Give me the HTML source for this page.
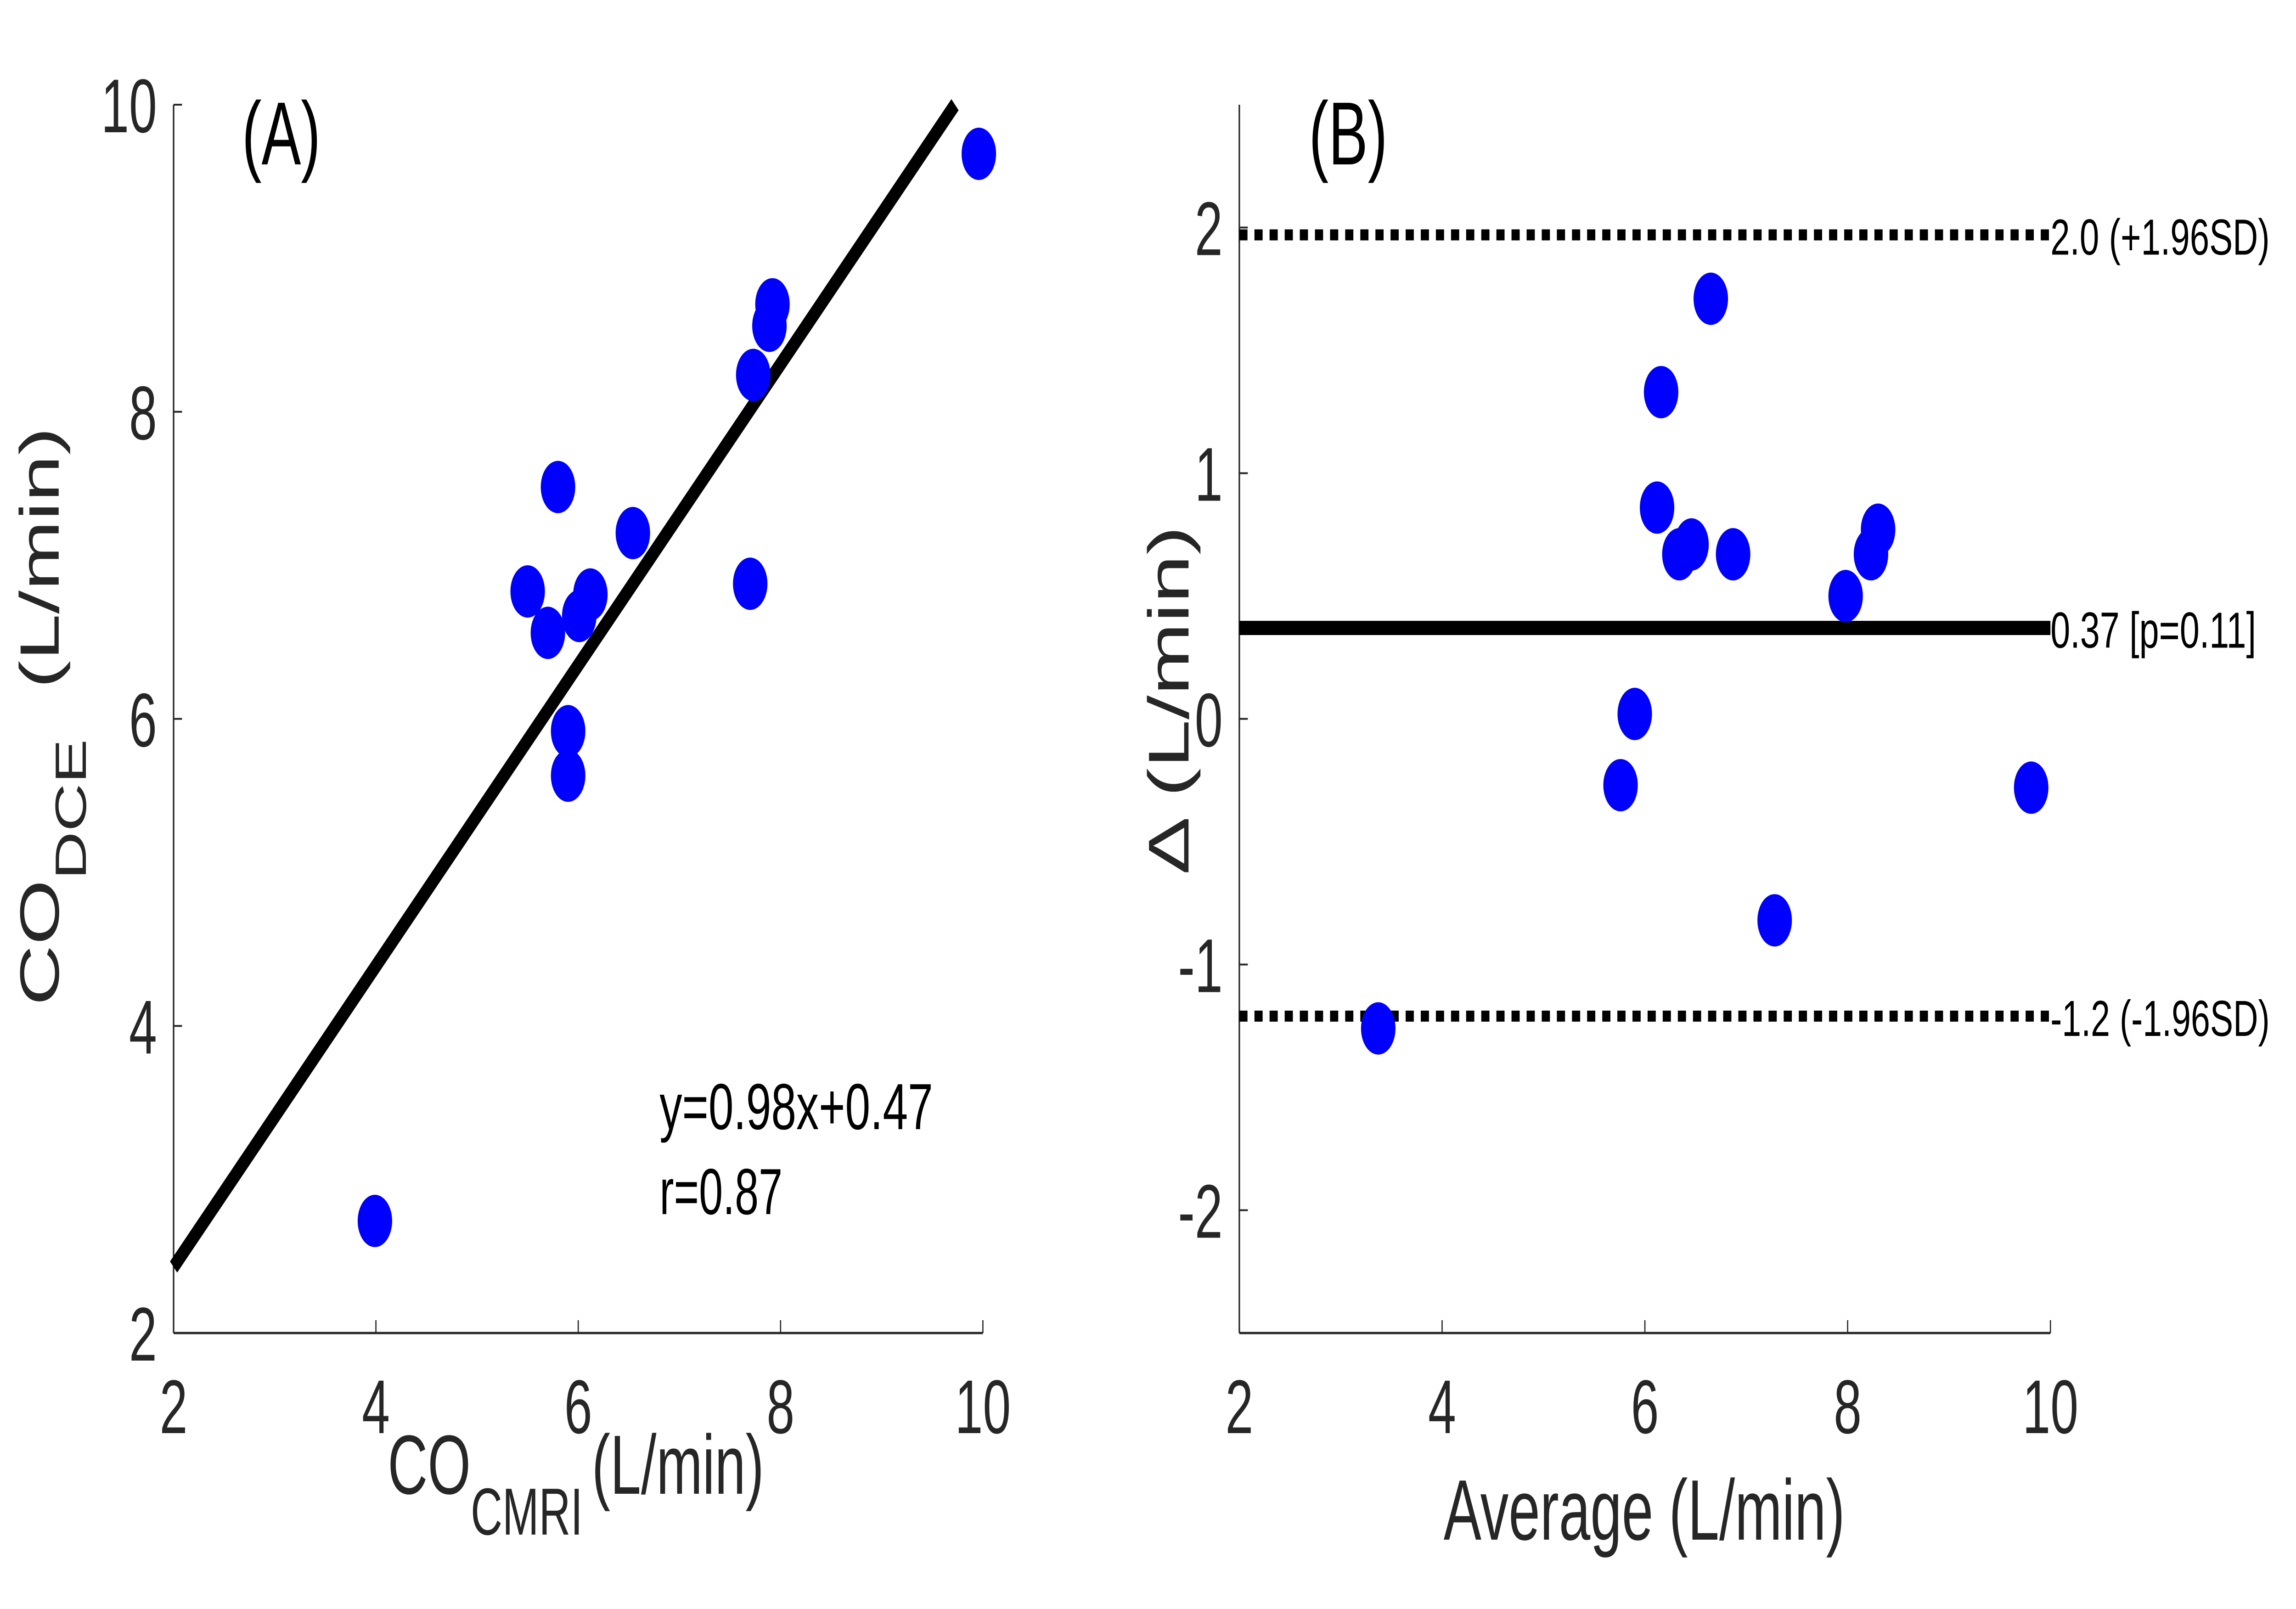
<!DOCTYPE html>
<html><head><meta charset="utf-8"><style>
html,body{margin:0;padding:0;background:#fff;width:100%;height:100%;overflow:hidden;}
svg{display:block;width:100vw;height:100vh;font-family:"Liberation Sans",Arial,sans-serif;}
</style></head><body>
<svg id="chart" viewBox="0 0 7592 3504" preserveAspectRatio="none" xmlns="http://www.w3.org/2000/svg">
<rect width="7592" height="3504" fill="#fff"/>
<g id="pa"></g>
<g id="pb"></g>
<text x="800" y="358" font-size="195" fill="#000">(A)</text>
<text x="4328" y="358" font-size="195" fill="#000">(B)</text>
<text x="2181" y="2459" font-size="142" fill="#000" textLength="904" lengthAdjust="spacingAndGlyphs">y=0.98x+0.47</text>
<text x="2181" y="2644" font-size="142" fill="#000">r=0.87</text>
<text x="1282" y="3253" font-size="183" fill="#262626">CO<tspan font-size="145" dy="89">CMRI</tspan><tspan dy="-89" dx="30">(L/min)</tspan></text>
<text transform="translate(194,2190) rotate(-90)" font-size="183" fill="#262626">CO<tspan font-size="145" dy="90">DCE</tspan><tspan dy="-90" dx="110">(L/min)</tspan></text>
<text x="5437" y="3353" font-size="187" fill="#262626" text-anchor="middle">Average (L/min)</text>
<text transform="translate(3930,1525) rotate(-90)" font-size="190" fill="#262626" text-anchor="middle">Δ (L/min)</text>
</svg>
<script>
// Panel A data
const aX = [3.99,5.50,5.70,5.80,5.90,5.90,6.01,6.12,6.54,7.70,7.73,7.89,7.92,9.96];
const aY = [2.73,6.83,6.56,7.51,5.92,5.63,6.67,6.81,7.21,6.88,8.24,8.56,8.70,9.68];
const aSlope = [0.98];
const aIntercept = [0.47];
const aXTicks = [2,4,6,8,10];
const aYTicks = [2,4,6,8,10];
// Panel B data
const bX = [3.37,5.76,5.90,6.12,6.16,6.34,6.46,6.65,6.87,7.28,7.98,8.23,8.30,9.81];
const bY = [-1.26,-0.27,0.02,0.86,1.33,0.67,0.71,1.71,0.67,-0.82,0.50,0.67,0.77,-0.28];
const bMean = [0.37];
const bLimits = [1.97,-1.21];
const bLimitLabels = ["2.0 (+1.96SD)","-1.2 (-1.96SD)"];
const bMeanLabel = ["0.37 [p=0.11]"];
const bXTicks = [2,4,6,8,10];
const bYTicks = [-2,-1,0,1,2];

const NS="http://www.w3.org/2000/svg";
function mk(parent,tag,attrs,text){const e=document.createElementNS(NS,tag);for(const k in attrs)e.setAttribute(k,attrs[k]);if(text!==undefined)e.textContent=text;parent.appendChild(e);return e;}
function scale(d0,d1,r0,r1){return v=>r0+(v-d0)/(d1-d0)*(r1-r0);}
const AX="#262626";

function axes(g,sx,sy,x0,x1,y0,y1,xt,yt,pre){
  const l1=mk(g,'line',{x1:sx(x0),y1:sy(y0),x2:sx(x0),y2:sy(y1),stroke:AX,'stroke-width':5});
  
  
  const l2=mk(g,'line',{x1:sx(x0),y1:sy(y0),x2:sx(x1),y2:sy(y0),stroke:AX,'stroke-width':5});
  
  
  xt.forEach(v=>{
    const t=mk(g,'line',{x1:sx(v),y1:sy(y0),x2:sx(v),y2:sy(y0)-28,stroke:AX,'stroke-width':4});
    
    
    const tl=mk(g,'text',{x:sx(v),y:3121,'font-size':166,fill:AX,'text-anchor':'middle'},String(v));
    
    
  });
  yt.forEach(v=>{
    const t=mk(g,'line',{x1:sx(x0),y1:sy(v),x2:sx(x0)+28,y2:sy(v),stroke:AX,'stroke-width':4});
    
    
    const tl=mk(g,'text',{x:sx(x0)-55,y:sy(v)+60,'font-size':166,fill:AX,'text-anchor':'end'},String(v));
    
    
  });
}

// Panel A
const ga=document.getElementById('pa');
const sxA=scale(2,10,574,3250), syA=scale(2,10,2903,228);
axes(ga,sxA,syA,2,10,2,10,aXTicks,aYTicks,'a-');
{
  const xs=2, xe=(10-aIntercept[0])/aSlope[0];
  const rl=mk(ga,'line',{x1:sxA(xs),y1:syA(aSlope[0]*xs+aIntercept[0]),x2:sxA(xe),y2:syA(aSlope[0]*xe+aIntercept[0]),stroke:'#000','stroke-width':34});
  
  
}
aX.forEach((v,i)=>{
  const c=mk(ga,'circle',{cx:sxA(v),cy:syA(aY[i]),r:57,fill:'#0000ff'});
  
  
});

// Panel B
const gb=document.getElementById('pb');
const sxB=scale(2,10,4098,6780), syB=scale(-2.5,2.5,2903,228);
axes(gb,sxB,syB,2,10,-2.5,2.5,bXTicks,bYTicks,'b-');
bLimits.forEach((v,i)=>{
  const l=mk(gb,'line',{x1:sxB(2),y1:syB(v),x2:sxB(10),y2:syB(v),stroke:'#000','stroke-width':24,'stroke-dasharray':'27 23'});
  
  
  const t=mk(gb,'text',{x:sxB(10),y:syB(v)+43,'font-size':110,fill:'#000',textLength:725,lengthAdjust:'spacingAndGlyphs'},bLimitLabels[i]);
  
  
});
{
  const l=mk(gb,'line',{x1:sxB(2),y1:syB(bMean[0]),x2:sxB(10),y2:syB(bMean[0]),stroke:'#000','stroke-width':31});
  
  
  const t=mk(gb,'text',{x:sxB(10),y:syB(bMean[0])+43,'font-size':110,fill:'#000',textLength:680,lengthAdjust:'spacingAndGlyphs'},bMeanLabel[0]);
  
  
}
bX.forEach((v,i)=>{
  const c=mk(gb,'circle',{cx:sxB(v),cy:syB(bY[i]),r:57,fill:'#0000ff'});
  
  
});
</script>
</body></html>
